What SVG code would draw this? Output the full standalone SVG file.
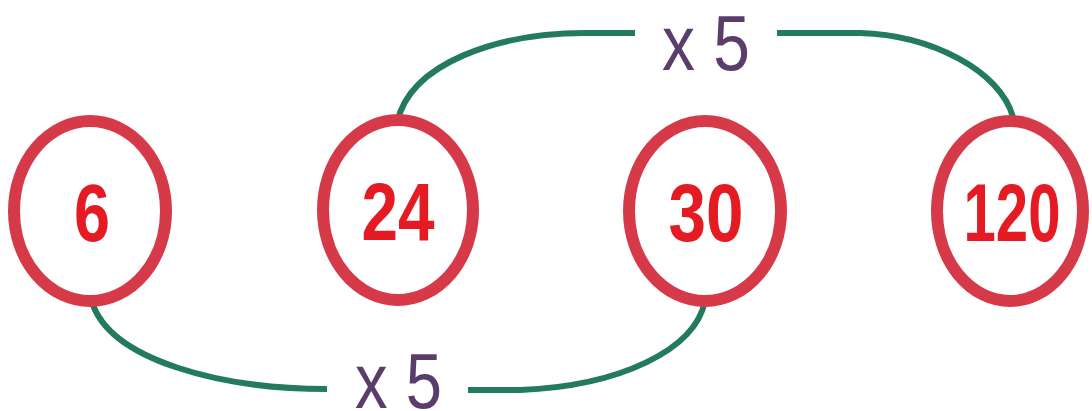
<svg xmlns="http://www.w3.org/2000/svg" width="1092" height="411" viewBox="0 0 1092 411">
<style>
.ring{fill:#fff;stroke:#d63a48;stroke-width:12}
.num{font-family:"Liberation Sans",Arial,sans-serif;font-weight:bold;font-size:81px;fill:#e41b23;text-anchor:middle}
.lbl{font-family:"Liberation Sans",Arial,sans-serif;font-size:77px;fill:#5b3d6b}
.conn{fill:none;stroke:#237a5c;stroke-width:6;stroke-linecap:butt}
</style>
<rect width="1092" height="411" fill="#fff"/>
<g id="connectors">
<path class="conn" d="M397,123 C410,62 500,33 585,33 L635,33"/>
<path class="conn" d="M777,33 L860,33 C930,35 1000,70 1013,117"/>
<path class="conn" d="M92,302 C110,360 220,389 327,389"/>
<path class="conn" d="M468,390 L520,390 C620,386 695,350 705,301"/>
<text class="lbl" x="662" y="70" textLength="88" lengthAdjust="spacingAndGlyphs">x 5</text>
<text class="lbl" x="355" y="408" textLength="87" lengthAdjust="spacingAndGlyphs">x 5</text>
</g>
<g id="n6"><ellipse class="ring" cx="90" cy="211" rx="76" ry="90"/><text class="num" x="92" y="241" textLength="36" lengthAdjust="spacingAndGlyphs">6</text></g>
<g id="n24"><ellipse class="ring" cx="398" cy="210" rx="75" ry="90"/><text class="num" x="398" y="240" textLength="73" lengthAdjust="spacingAndGlyphs">24</text></g>
<g id="n30"><ellipse class="ring" cx="705" cy="211" rx="76" ry="90"/><text class="num" x="706" y="241" textLength="75" lengthAdjust="spacingAndGlyphs">30</text></g>
<g id="n120"><ellipse class="ring" cx="1010" cy="211" rx="73" ry="90"/><text class="num" x="1012" y="241" textLength="97" lengthAdjust="spacingAndGlyphs">120</text></g>
</svg>
